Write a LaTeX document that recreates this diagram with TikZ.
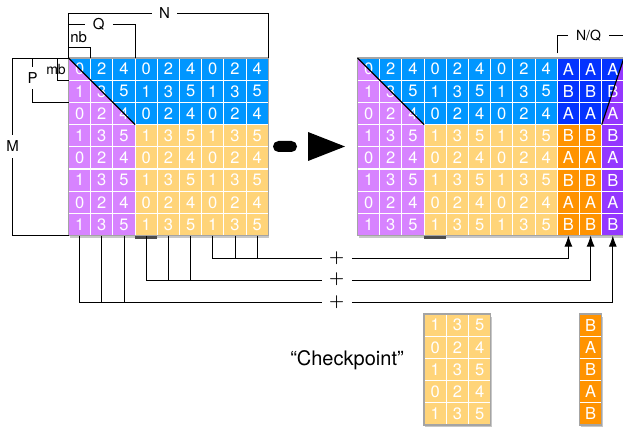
\documentclass[tikz,border=0pt]{standalone}
\usepackage{fontspec}
\setmainfont{TeX Gyre Heros}
\usetikzlibrary{arrows.meta,calc,backgrounds}

\definecolor{cellblue}{HTML}{0096FF}
\definecolor{celllilac}{HTML}{D783FF}
\definecolor{cellsand}{HTML}{FFD479}
\definecolor{cellorange}{HTML}{FF9300}
\definecolor{cellnavy}{HTML}{0433FF}
\definecolor{cellgrape}{HTML}{9437FF}
\definecolor{rimgray}{HTML}{A4A4A4}

\tikzset{
  cell/.style={draw=white, line width=1.1pt, minimum size=22.2pt, inner sep=0pt,
    outer sep=0pt, text=white, font=\fontsize{16.5}{18}\selectfont},
  dim/.style={font=\fontsize{15}{17}\selectfont, inner sep=0pt},
  dimline/.style={line width=0.8pt},
  rim/.style={draw=rimgray, line width=1.3pt},
  drop/.style={fill=black, opacity=0.22},
  sum/.style={font=\fontsize{18}{18}\selectfont\boldmath, inner sep=0pt,
    minimum width=30pt},
  feed/.style={line width=0.9pt},
  split/.style={line width=1.2pt},
}

\begin{document}
\begin{tikzpicture}[x=1pt,y=-1pt]
\useasboundingbox (0,0) rectangle (623,427);

% ---- left block: 8 x 9 cells ----
\foreach \r in {0,...,7} {
  \foreach \c in {0,...,8} {
    \pgfmathtruncatemacro\v{2*mod(\c,3)+mod(\r,2)}
    \node[cell] (L-\r-\c) at ({68.5+11.1+22.2*\c},{58+11.1+22.2*\r}) {\v};
  }
}

% ---- right block: 8 x 9 cells plus three result columns ----
\foreach \r in {0,...,7} {
  \foreach \c in {0,...,8} {
    \pgfmathtruncatemacro\v{2*mod(\c,3)+mod(\r,2)}
    \node[cell] (R-\r-\c) at ({357.5+11.1+22.2*\c},{58+11.1+22.2*\r}) {\v};
  }
  \foreach \c in {9,10,11} {
    \node[cell] (R-\r-\c) at ({357.5+11.1+22.2*\c},{58+11.1+22.2*\r})
      {\ifodd\r\relax B\else A\fi};
  }
}

% ---- checkpoint blocks ----
\foreach \r in {0,...,4} {
  \foreach \c in {0,1,2} {
    \pgfmathtruncatemacro\v{2*\c+1-mod(\r,2)}
    \node[cell] (K-\r-\c) at ({357.5+11.1+22.2*(\c+3)},{314+11.1+22.2*\r}) {\v};
  }
  \node[cell] (O-\r) at ({357.5+11.1+22.2*10},{314+11.1+22.2*\r})
    {\ifodd\r\relax A\else B\fi};
}

% ---- fills and shadows behind the cells ----
\begin{scope}[on background layer]
  \fill[drop] ($(L-0-0.north west)+(1,2.5)$) rectangle ($(L-7-8.south east)+(1,2.5)$);
  \fill[drop] ($(R-0-0.north west)+(1,2.5)$) rectangle ($(R-7-11.south east)+(1,2.5)$);
  \fill[drop] ($(K-0-0.north west)+(1,2.5)$) rectangle ($(K-4-2.south east)+(1,2.5)$);
  \fill[drop] ($(O-0.north west)+(1,2.5)$) rectangle ($(O-4.south east)+(1,2.5)$);

  \fill[black!70] ($(L-7-3.south west)+(0,0.8)$) rectangle ($(L-7-3.south east)+(0,3.6)$);
  \fill[black!70] ($(R-7-3.south west)+(0,0.8)$) rectangle ($(R-7-3.south east)+(0,3.6)$);

  \fill[celllilac] (L-0-0.north west) rectangle (L-7-2.south east);
  \fill[cellblue]  (L-0-3.north west) rectangle (L-2-8.south east);
  \fill[cellsand]  (L-3-3.north west) rectangle (L-7-8.south east);
  \fill[cellblue]  (L-0-0.north west) -- (L-0-2.north east) -- (L-2-2.south east) -- cycle;

  \fill[celllilac]  (R-0-0.north west) rectangle (R-7-2.south east);
  \fill[cellblue]   (R-0-3.north west) rectangle (R-2-8.south east);
  \fill[cellsand]   (R-3-3.north west) rectangle (R-7-8.south east);
  \fill[cellblue]   (R-0-0.north west) -- (R-0-2.north east) -- (R-2-2.south east) -- cycle;
  \fill[cellnavy]   (R-0-9.north west) rectangle (R-2-10.south east);
  \fill[cellorange] (R-3-9.north west) rectangle (R-7-10.south east);
  \fill[cellgrape]  (R-0-11.north west) rectangle (R-7-11.south east);
  \fill[cellnavy]   (R-0-11.north west) -- (R-0-11.north east) -- (R-2-11.south west) -- cycle;

  \fill[cellsand]   (K-0-0.north west) rectangle (K-4-2.south east);
  \fill[cellorange] (O-0.north west) rectangle (O-4.south east);
\end{scope}

% ---- frames and diagonals ----
\draw[rim] (L-0-0.north west) rectangle (L-7-8.south east);
\draw[rim] (R-0-0.north west) rectangle (R-7-11.south east);
\draw[rim] (K-0-0.north west) rectangle (K-4-2.south east);
\draw[rim] (O-0.north west) rectangle (O-4.south east);

\draw[split] (L-0-0.north west) -- (L-2-2.south east);
\draw[split] (R-0-0.north west) -- (R-2-2.south east);
\draw[split] (R-2-11.south west) -- (R-0-11.north east);

% ---- dimension brackets ----
\node[dim, inner xsep=7pt] (N) at (164.5,13.5) {N};
\draw[dimline] (L-0-0.north west) |- (N.west);
\draw[dimline] (N.east) -| (L-0-8.north east);

\node[dim, inner xsep=8pt] (Q) at (98.8,24.7) {Q};
\draw[dimline] (L-0-0.north west) |- (Q.west);
\draw[dimline] (Q.east) -| (L-0-2.north east);

\node[dim] (nb) at (78.7,36.7) {nb};
\draw[dimline] (L-0-0.north west) -- ++(0,-10.4) -| (L-0-0.north east);

\node[dim, font=\fontsize{14}{16}\selectfont] (mb) at (56,70) {mb};
\draw[dimline] (L-0-0.south west) -| ($(L-0-0.north west)+(-11.2,0)$);

\node[dim, inner ysep=5.5pt] (P) at (32.7,78) {P};
\draw[dimline] (L-0-0.north west) -| (P.north);
\draw[dimline] (P.south) |- (L-1-0.south west);

\node[dim, inner ysep=6pt] (M) at (12.7,146.5) {M};
\draw[dimline] (L-0-0.north west) -| (M.north);
\draw[dimline] (M.south) |- (L-7-0.south west);

\node[dim, font=\fontsize{14}{16}\selectfont, inner xsep=8pt] (NQ) at (588.5,35.5) {N/Q};
\draw[dimline] ($(R-0-9.north west)+(0,-4.5)$) |- (NQ.west);
\draw[dimline] (NQ.east) -| ($(R-0-11.north east)+(0,-4.5)$);

% ---- transition arrow ----
\fill[rounded corners=5.5pt] (273,141) rectangle (297,152);
\fill (308,132) -- (345,146.5) -- (308,161) -- cycle;

% ---- column sums ----
\node[sum] (s1) at (336.7,257.8) {$+$};
\node[sum] (s2) at (336.7,279.5) {$+$};
\node[sum] (s3) at (336.7,301.8) {$+$};

\draw[feed] (L-7-6.south) |- ($(s1.west)+(0,0.5)$);
\draw[feed] (L-7-7.south) -- (L-7-7.south |- {$(s1.west)+(0,0.5)$});
\draw[feed] (L-7-8.south) -- (L-7-8.south |- {$(s1.west)+(0,0.5)$});
\draw[feed, -{Latex[length=11pt,width=8pt]}] ($(s1.east)+(0,0.5)$) -| (R-7-9.south);

\draw[feed] (L-7-3.south) |- ($(s2.west)+(0,0.5)$);
\draw[feed] (L-7-4.south) -- (L-7-4.south |- {$(s2.west)+(0,0.5)$});
\draw[feed] (L-7-5.south) -- (L-7-5.south |- {$(s2.west)+(0,0.5)$});
\draw[feed, -{Latex[length=11pt,width=8pt]}] ($(s2.east)+(0,0.5)$) -| (R-7-10.south);

\draw[feed] (L-7-0.south) |- ($(s3.west)+(0,0.5)$);
\draw[feed] (L-7-1.south) -- (L-7-1.south |- {$(s3.west)+(0,0.5)$});
\draw[feed] (L-7-2.south) -- (L-7-2.south |- {$(s3.west)+(0,0.5)$});
\draw[feed, -{Latex[length=11pt,width=8pt]}] ($(s3.east)+(0,0.5)$) -| (R-7-11.south);

% ---- checkpoint caption ----
\node[font=\fontsize{20}{22}\selectfont, inner sep=0pt, anchor=base] (ck) at (347,365.7) {“Checkpoint”};

\end{tikzpicture}
\end{document}
